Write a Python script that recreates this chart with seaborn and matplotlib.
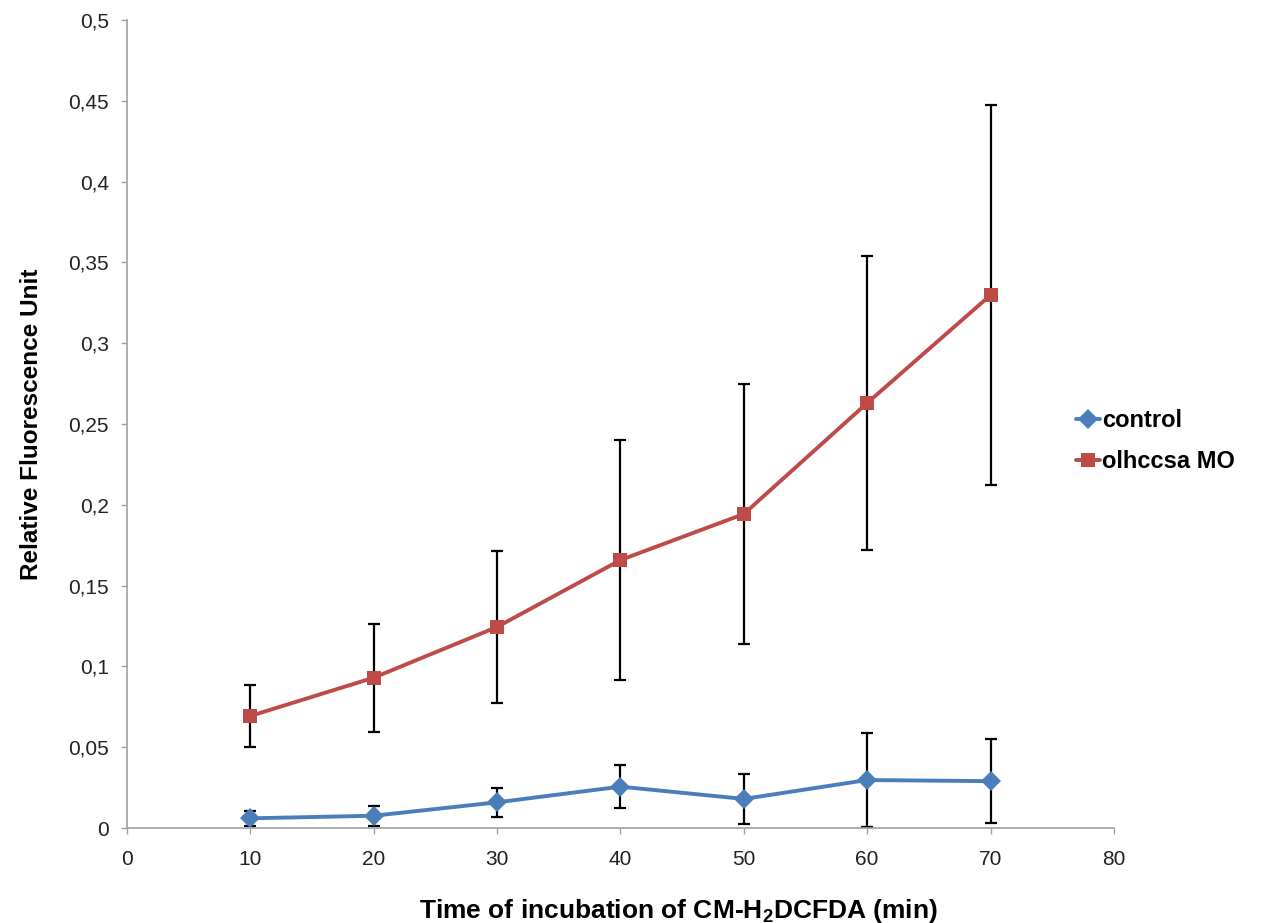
import matplotlib
matplotlib.use("Agg")
import matplotlib.pyplot as plt
import seaborn as sns
import pandas as pd
from matplotlib.ticker import FuncFormatter, MultipleLocator

time_min = [10, 20, 30, 40, 50, 60, 70]
control = [0.006, 0.0076, 0.0159, 0.0256, 0.018, 0.0297, 0.029]
control_err = [0.0045, 0.0062, 0.009, 0.0133, 0.0155, 0.029, 0.026]
olhccsa = [0.0693, 0.093, 0.1244, 0.1658, 0.1943, 0.263, 0.3298]
olhccsa_err = [0.0192, 0.0334, 0.0473, 0.0743, 0.0804, 0.091, 0.1176]
series_names = ["control", "olhccsa MO"]

sns.set_theme(style="white")
plt.rcParams["font.family"] = ["Liberation Sans", "DejaVu Sans"]
plt.rcParams["mathtext.fontset"] = "custom"
plt.rcParams["mathtext.rm"] = "Liberation Sans"
plt.rcParams["mathtext.bf"] = "Liberation Sans:bold"

df = pd.DataFrame({
    "time": time_min * 2,
    "value": control + olhccsa,
    "err": control_err + olhccsa_err,
    "series": [series_names[0]] * len(time_min) + [series_names[1]] * len(time_min),
})

colors = {"control": "#4A7EBB", "olhccsa MO": "#BE4B48"}
markers = {"control": "D", "olhccsa MO": "s"}

fig = plt.figure(figsize=(12.68, 9.23), dpi=100)
ax = fig.add_axes([0.1, 0.1029, 0.7785, 0.8754])

for name in series_names:
    sub = df[df["series"] == name]
    ax.errorbar(sub["time"], sub["value"], yerr=sub["err"], fmt="none",
                ecolor="black", elinewidth=1.6, capsize=4, capthick=1.6, zorder=2)

sns.lineplot(data=df, x="time", y="value", hue="series", style="series",
             palette=colors, markers=markers, dashes=False, linewidth=2.8,
             markersize=10, markeredgewidth=0, ax=ax, zorder=3)

ax.set_xlim(0, 80)
ax.set_ylim(0, 0.5)
ax.xaxis.set_major_locator(MultipleLocator(10))
ax.yaxis.set_major_locator(MultipleLocator(0.05))
fmt = FuncFormatter(lambda v, p: ("%g" % round(v, 4)).replace(".", ","))
ax.yaxis.set_major_formatter(fmt)
ax.xaxis.set_major_formatter(FuncFormatter(lambda v, p: "%d" % v))

for s in ["top", "right"]:
    ax.spines[s].set_visible(False)
for s in ["left", "bottom"]:
    ax.spines[s].set_color("#A0A0A0")
    ax.spines[s].set_linewidth(1.2)
ax.tick_params(axis="both", which="major", direction="out", length=4, width=1,
               color="#A0A0A0", labelsize=15, labelcolor="#222222",
               bottom=True, left=True)
ax.tick_params(axis="x", pad=12)
ax.tick_params(axis="y", pad=9)

ax.set_xlabel(r"Time of incubation of CM-H$_{\mathbf{2}}$DCFDA (min)",
              fontsize=19, fontweight="bold", labelpad=19, color="black")
ax.xaxis.set_label_coords(0.559, -0.085)
ax.set_ylabel("Relative Fluorescence Unit", fontsize=17.5, fontweight="bold",
              labelpad=18, color="black")

handles, labels = ax.get_legend_handles_labels()
if ax.get_legend():
    ax.get_legend().remove()
leg = fig.legend(handles, labels, loc="center left", bbox_to_anchor=(0.832, 0.522),
                 frameon=False, handlelength=1.0, handletextpad=0.1,
                 labelspacing=0.75, prop={"size": 17, "weight": "bold"})
for t in leg.get_texts():
    t.set_color("black")

fig.savefig("out.png", dpi=100)
